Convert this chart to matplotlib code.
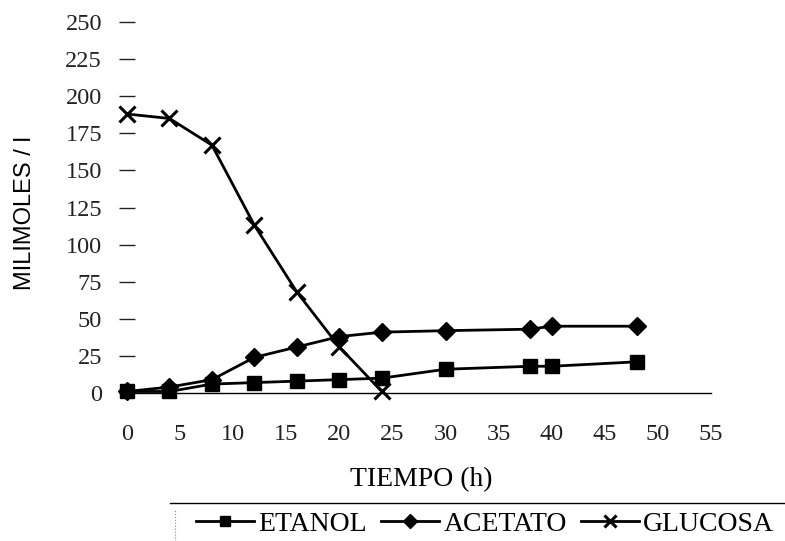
import matplotlib
matplotlib.use("Agg")
import matplotlib.pyplot as plt
from matplotlib.lines import Line2D

# Datos
tiempo = [0, 4, 8, 12, 16, 20, 24, 30, 38, 40, 48]
etanol = [1, 1, 6, 7, 8, 9, 10, 16, 18, 18, 21]
acetato = [1, 4, 9, 24, 31, 38, 41, 42, 43, 45, 45]
tiempo_glu = [0, 4, 8, 12, 16, 20, 24]
glucosa = [188, 185, 167, 113, 68, 31, 1]

xticks = list(range(0, 60, 5))
yticks = list(range(0, 275, 25))

plt.rcParams['font.family'] = ['Liberation Serif', 'DejaVu Serif']

fig = plt.figure(figsize=(7.85, 5.41), dpi=100)
ax = fig.add_axes([0.1618, 0.2736, 0.7439, 0.6857])

ax.plot(tiempo, etanol, color='black', lw=2, marker='s', ms=10, clip_on=False, label='ETANOL')
ax.plot(tiempo, acetato, color='black', lw=2, marker='D', ms=9, clip_on=False, label='ACETATO')
ax.plot(tiempo_glu, glucosa, color='black', lw=2, marker='x', ms=11, mew=2.2, clip_on=False, label='GLUCOSA')

ax.set_xlim(0, 55)
ax.set_ylim(0, 250)
ax.set_xticks(xticks)
ax.set_yticks(yticks)
for s in ['top', 'right', 'left']:
    ax.spines[s].set_visible(False)
ax.spines['bottom'].set_linewidth(1)
ax.tick_params(axis='y', direction='inout', length=12, width=1, labelsize=17.5, pad=12, colors='#222222')
ax.tick_params(axis='x', length=0, labelsize=17.5, pad=22, colors='#222222')

fig.text(421 / 785, 1 - 480 / 541, 'TIEMPO (h)', ha='center', va='center', fontsize=20)
fig.text(0.032, 0.606, 'MILIMOLES / l', rotation=90, ha='center', va='center',
         fontsize=17, family='Liberation Sans')

# Leyenda debajo con línea separadora
ax.legend(loc='center', bbox_to_anchor=(0.618, 0.031), bbox_transform=fig.transFigure,
          ncol=3, frameon=False, fontsize=20, handlelength=2.1, handletextpad=0.15,
          columnspacing=0.5, markerscale=0.75, borderpad=0, borderaxespad=0)
fig.add_artist(Line2D([0.217, 1.0], [0.070, 0.070], color='black', lw=1))
fig.add_artist(Line2D([0.223, 0.223], [0.0, 0.058], color='#888888', lw=0.8, ls=':'))

fig.savefig('out.png', dpi=100)
